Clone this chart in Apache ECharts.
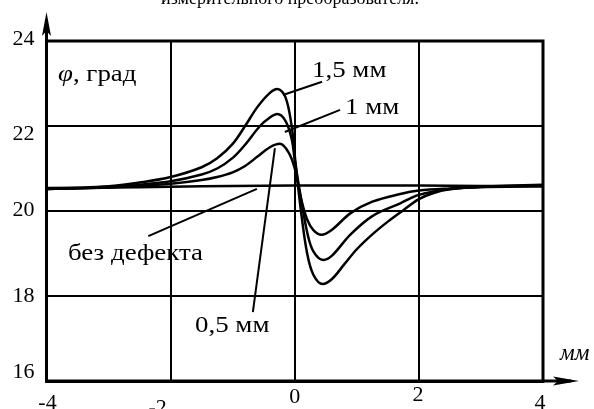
<!DOCTYPE html>
<html><head><meta charset="utf-8">
<script src="https://cdn.jsdelivr.net/npm/echarts@6/dist/echarts.min.js"></script>
<style>html,body{margin:0;padding:0;background:#fff}#c{width:594px;height:409px}</style>
</head><body><div id="c"></div>
<script>
// ---- data (x in mm, y in degrees) ----
const x15 = [-4,-3,-2.5,-2,-1.5,-1.25,-1.0,-0.8,-0.6,-0.4,-0.28,-0.15,-0.05,0.0,0.1,0.2,0.3,0.45,0.6,0.8,1.0,1.25,1.5,1.75,2.0,2.25,2.5,3.0,4.0];
const y15 = [20.52,20.58,20.67,20.8,21.03,21.24,21.58,22.0,22.45,22.78,22.87,22.68,22.0,21.3,20.0,19.0,18.5,18.28,18.4,18.75,19.1,19.45,19.75,20.02,20.28,20.43,20.51,20.57,20.62];
const x10 = [-4,-3,-2.5,-2,-1.5,-1.25,-1.0,-0.8,-0.56,-0.4,-0.28,-0.15,-0.05,0.0,0.1,0.2,0.3,0.46,0.6,0.9,1.25,1.7,2.0,2.5,3.0,4.0];
const y10 = [20.52,20.56,20.62,20.7,20.86,21.0,21.25,21.56,22.0,22.2,22.28,22.12,21.7,21.2,20.3,19.5,19.05,18.85,18.95,19.45,19.88,20.18,20.38,20.52,20.57,20.6];
const x05 = [-4,-3,-2.5,-2,-1.5,-1.25,-1.0,-0.8,-0.6,-0.4,-0.24,-0.1,0.0,0.1,0.2,0.3,0.43,0.6,0.9,1.25,1.7,2.0,2.5,3.0,4.0];
const y05 = [20.52,20.55,20.59,20.64,20.73,20.8,20.91,21.06,21.28,21.5,21.58,21.38,21.0,20.3,19.8,19.55,19.44,19.56,19.95,20.22,20.4,20.48,20.53,20.56,20.58];
const x00 = [-4,-3,-2,-1,0,1,2,3,4];
const y00 = [20.54,20.55,20.57,20.59,20.6,20.6,20.6,20.59,20.58];
const xTicks = ['-4','-2','0','2','4'];
const yTicks = ['16','18','20','22','24'];
const curveNames = ['1,5 мм','1 мм','0,5 мм','без дефекта'];
const titleText = 'измерительного преобразователя.';
const axisUnit = 'мм';
const yName = 'φ';
const yUnit = ', град';
// annotation leader lines in data coordinates [x1,y1,x2,y2]
const leaders = [[-0.19,22.73,0.44,23.04],[-0.16,21.86,0.73,22.38],[-2.36,19.41,-0.61,20.52],[-0.675,17.62,-0.32,21.48]];

const zip = (a,b)=>a.map((v,i)=>[v,b[i]]);
const FONT = "'Liberation Serif','Times New Roman',serif";
const chart = echarts.init(document.getElementById('c'), null, {renderer:'canvas'});

const xRich = {n4:{padding:[9,0,0,2]}, n2:{padding:[14,26,0,0]}, z:{padding:[3,0,0,0]}, p2:{padding:[1,2,0,0]}, p4:{padding:[9,6,0,0]}};
const xKey = {'-4':'n4','-2':'n2','0':'z','2':'p2','4':'p4'};
const yRich = {a16:{padding:[0,0,18,0]}, a18:{padding:[0,0,0,0]}, a20:{padding:[0,0,2,0]}, a22:{padding:[16,0,0,0]}, a24:{padding:[0,0,4,0]}};
Object.values(xRich).forEach(s=>{s.fontFamily=FONT;s.fontSize=22;s.color='#000';});
Object.values(yRich).forEach(s=>{s.fontFamily=FONT;s.fontSize=22;s.color='#000';});

const lineStyle = {color:'#000', width:2.5};
const series = [[x15,y15],[x10,y10],[x05,y05],[x00,y00]].map((d,i)=>({
  name: curveNames[i], type:'line', data: zip(d[0],d[1]), smooth:0.35, showSymbol:false,
  lineStyle: lineStyle, z: 5, animation:false
}));

chart.setOption({
  animation:false,
  backgroundColor:'#fff',
  grid:{left:46.5, right:51, top:41, bottom:28, show:true, borderColor:'#000', borderWidth:3, outerBoundsMode:'none', containLabel:false},
  xAxis:{type:'value', min:-4, max:4, interval:2,
    axisLine:{show:true, onZero:false, lineStyle:{color:'#000', width:3}},
    axisTick:{show:false},
    splitLine:{show:true, lineStyle:{color:'#000', width:2}},
    axisLabel:{margin:2, formatter:v=>{const s=String(v);return '{'+xKey[s]+'|'+xTicks[xTicks.indexOf(s)]+'}';}, rich:xRich}
  },
  yAxis:{type:'value', min:16, max:24, interval:2,
    axisLine:{show:true, onZero:false, lineStyle:{color:'#000', width:3}},
    axisTick:{show:false},
    splitLine:{show:true, lineStyle:{color:'#000', width:2}},
    axisLabel:{margin:12, formatter:v=>{const s=String(v);return '{a'+s+'|'+yTicks[yTicks.indexOf(s)]+'}';}, rich:yRich}
  },
  series: series
});

function px(x,y){return chart.convertToPixel({gridIndex:0},[x,y]);}
const o = px(-4,16), t = px(-4,24), r = px(4,16);
const gfx = [];
// axis arrows
gfx.push({type:'line', shape:{x1:o[0],y1:t[1],x2:o[0],y2:t[1]-22}, style:{stroke:'#000',lineWidth:3}, z:10});
gfx.push({type:'polygon', shape:{points:[[o[0],t[1]-29],[o[0]-4.5,t[1]-5],[o[0],t[1]-10],[o[0]+4.5,t[1]-5]]}, style:{fill:'#000'}, z:10});
gfx.push({type:'line', shape:{x1:r[0],y1:o[1],x2:r[0]+28,y2:o[1]}, style:{stroke:'#000',lineWidth:3}, z:10});
gfx.push({type:'polygon', shape:{points:[[r[0]+36,o[1]],[r[0]+10,o[1]-4.5],[r[0]+15,o[1]],[r[0]+10,o[1]+4.5]]}, style:{fill:'#000'}, z:10});
// leaders
leaders.forEach(l=>{const a=px(l[0],l[1]), b=px(l[2],l[3]);
  gfx.push({type:'line', shape:{x1:a[0],y1:a[1],x2:b[0],y2:b[1]}, style:{stroke:'#000',lineWidth:2}, z:10});});
// texts (scanned figure is horizontally stretched, hence scaleX)
const tx = (text,x,y,extra,sx)=>gfx.push({type:'text', x:x, y:y, z:11, scaleX:sx||1.17,
  style:Object.assign({text:text, fill:'#000', font:'23px '+FONT, textAlign:'left', textVerticalAlign:'middle'}, extra||{})});
tx(curveNames[0], 312, 71);
tx(curveNames[1], 345, 108);
tx(curveNames[3], 68, 254);
tx(curveNames[2], 195, 326);
gfx.push({type:'text', x:58, y:75, z:11, scaleX:1.17, style:{text:'{i|'+yName+'}'+yUnit, fill:'#000', font:'23px '+FONT, textVerticalAlign:'middle',
  rich:{i:{fontStyle:'italic', fontFamily:FONT, fontSize:23}}}});
gfx.push({type:'text', x:560, y:354, z:11, style:{text:axisUnit, fill:'#000', font:'italic 23px '+FONT, textAlign:'left', textVerticalAlign:'middle'}});
gfx.push({type:'text', x:290, y:8, z:11, style:{text:titleText, fill:'#000', font:'18px '+FONT, textAlign:'center', textVerticalAlign:'bottom'}});
chart.setOption({graphic:gfx});
</script></body></html>
